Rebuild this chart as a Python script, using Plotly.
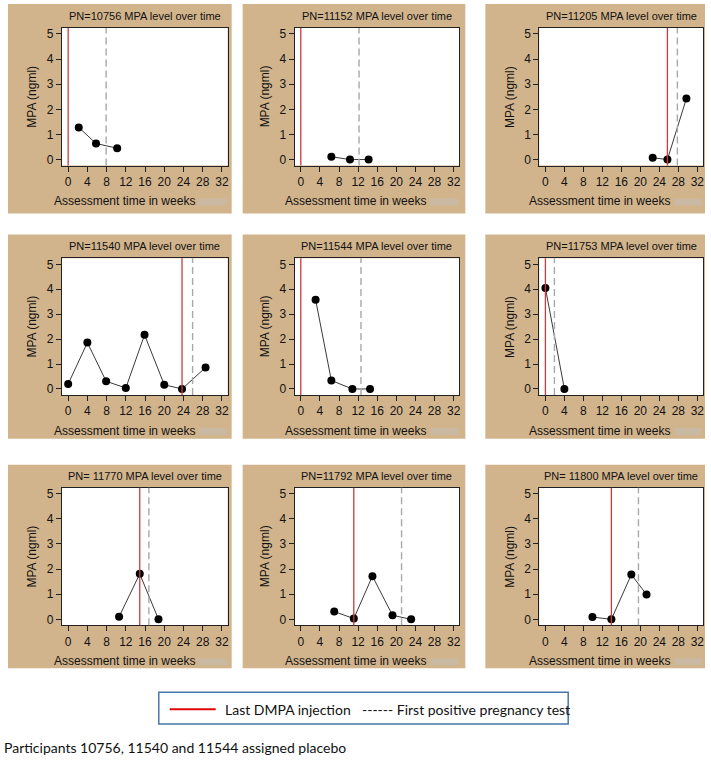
import plotly.graph_objects as go

W, H = 711, 760

# ---- data ----
ids = ["10756", "11152", "11205", "11540", "11544", "11753", "11770", "11792", "11800"]
titles = ["PN=10756 MPA level over time", "PN=11152 MPA level over time",
          "PN=11205 MPA level over time", "PN=11540 MPA level over time",
          "PN=11544 MPA level over time", "PN=11753 MPA level over time",
          "PN= 11770 MPA level over time", "PN=11792 MPA level over time",
          "PN= 11800 MPA level over time"]

weeks_10756 = [2.2, 5.8, 10.2]
mpa_10756 = [1.28, 0.64, 0.45]
weeks_11152 = [6.4, 10.3, 14.2]
mpa_11152 = [0.11, 0.0, 0.0]
weeks_11205 = [22.6, 25.7, 29.7]
mpa_11205 = [0.07, 0.0, 2.43]
weeks_11540 = [0.0, 4.0, 7.9, 12.0, 15.9, 20.0, 23.7, 28.6]
mpa_11540 = [0.2, 1.86, 0.31, 0.04, 2.17, 0.17, 0.0, 0.86]
weeks_11544 = [3.1, 6.4, 10.8, 14.5]
mpa_11544 = [3.58, 0.34, 0.0, 0.0]
weeks_11753 = [0.0, 4.0]
mpa_11753 = [4.05, 0.0]
weeks_11770 = [10.6, 14.9, 18.8]
mpa_11770 = [0.1, 1.81, 0.0]
weeks_11792 = [7.0, 11.1, 15.0, 19.2, 23.1]
mpa_11792 = [0.31, 0.03, 1.72, 0.16, 0.0]
weeks_11800 = [9.9, 13.9, 18.1, 21.3]
mpa_11800 = [0.09, 0.0, 1.78, 0.99]

weeks = [weeks_10756, weeks_11152, weeks_11205, weeks_11540, weeks_11544,
         weeks_11753, weeks_11770, weeks_11792, weeks_11800]
mpa = [mpa_10756, mpa_11152, mpa_11205, mpa_11540, mpa_11544,
       mpa_11753, mpa_11770, mpa_11792, mpa_11800]

last_dmpa = [0, 0, 25.7, 23.7, 0, 0, 14.9, 11.1, 13.9]
first_preg = [7.9, 12.2, 27.8, 25.9, 12.6, 1.9, 16.8, 21.1, 19.6]

x_ticks = [0, 4, 8, 12, 16, 20, 24, 28, 32]
y_ticks = [0, 1, 2, 3, 4, 5]

# ---- panel geometry in pixels ----
tan_cols = [(8, 232), (243, 466), (486, 706)]
plot_cols = [(62, 228), (295, 460), (540, 704)]
tan_rows = [(3, 213), (234, 439), (465, 669)]
plot_rows = [(27, 165), (258, 395), (488, 626)]

TAN = "#D2B48C"
GREYBOX = "#C9B9A2"
FONT = "Liberation Sans, Arial, sans-serif"


def fx(px):
    return px / W


def fy(py):
    return 1 - py / H


def label(x, y, text, size, family=FONT, xanchor="center", angle=0):
    return dict(xref="paper", yref="paper", x=x, y=y, xanchor=xanchor, yanchor="middle",
                text=text, showarrow=False, textangle=angle,
                font=dict(family=family, size=size, color="#111"))


fig = go.Figure()
shapes = []
annotations = []

for i in range(9):
    r, c = divmod(i, 3)
    n = "" if i == 0 else str(i + 1)
    xa, ya = "x" + n, "y" + n
    pl, pr = plot_cols[c]
    pt, pb = plot_rows[r]
    tl, tr = tan_cols[c]
    tt, tb = tan_rows[r]

    # tan panel and white plot area
    shapes.append(dict(type="rect", xref="paper", yref="paper", x0=fx(tl), x1=fx(tr),
                       y0=fy(tb), y1=fy(tt), fillcolor=TAN, line=dict(width=0), layer="below"))
    shapes.append(dict(type="rect", xref=xa + " domain", yref=ya + " domain", x0=0, x1=1,
                       y0=0, y1=1, fillcolor="white", line=dict(width=0), layer="below"))

    fig.add_trace(go.Scatter(x=weeks[i], y=mpa[i], mode="lines+markers", xaxis=xa, yaxis=ya,
                             line=dict(color="#3a3a3a", width=1),
                             marker=dict(color="black", size=8), showlegend=False))

    # reference lines
    shapes.append(dict(type="line", xref=xa, yref=ya + " domain", x0=last_dmpa[i], x1=last_dmpa[i],
                       y0=0, y1=1, line=dict(color="#CC3A3A", width=1.3)))
    shapes.append(dict(type="line", xref=xa, yref=ya + " domain", x0=first_preg[i], x1=first_preg[i],
                       y0=0, y1=1, line=dict(color="#A8A8A8", width=1.4, dash="7px,4px")))

    axis_common = dict(showline=True, mirror=True, linecolor="#222", linewidth=1,
                       showgrid=False, zeroline=False, ticks="outside", ticklen=5,
                       tickcolor="#222", tickfont=dict(family=FONT, size=12, color="#111"))
    fig.update_layout(**{
        ("xaxis" + n): dict(domain=[fx(pl), fx(pr)], anchor=ya, range=[-1.3, 33.2],
                            tickvals=x_ticks, **axis_common),
        ("yaxis" + n): dict(domain=[fy(pb), fy(pt)], anchor=xa, range=[-0.24, 5.24],
                            tickvals=y_ticks, **axis_common),
    })

    # titles
    annotations.append(label(fx((pl + pr) / 2), fy(pt - 12), titles[i], 11))
    annotations.append(label(fx(pr - 31), fy(pb + 36), "Assessment time in weeks", 12,
                             xanchor="right"))
    shapes.append(dict(type="rect", xref="paper", yref="paper", x0=fx(pr - 29), x1=fx(pr - 1),
                       y0=fy(pb + 40), y1=fy(pb + 33), fillcolor=GREYBOX, line=dict(width=0)))
    annotations.append(label(fx(pl - 30), fy((pt + pb) / 2), "MPA (ngml)", 12, angle=-90))

# legend box
LFONT = "Lato, Carlito, sans-serif"
shapes.append(dict(type="rect", xref="paper", yref="paper", x0=fx(159), x1=fx(569),
                   y0=fy(725), y1=fy(693), fillcolor="white", line=dict(color="#4A76A8", width=1.5)))
shapes.append(dict(type="line", xref="paper", yref="paper", x0=fx(170), x1=fx(216),
                   y0=fy(710), y1=fy(710), line=dict(color="#E00000", width=2)))
annotations.append(label(fx(223), fy(710), "Last DMPA injection", 14, LFONT, "left"))
annotations.append(label(fx(361), fy(710), "------ First positive pregnancy test", 14, LFONT, "left"))
annotations.append(label(fx(2), fy(748), "Participants 10756, 11540 and 11544 assigned placebo",
                         14, LFONT, "left"))

fig.update_layout(width=W, height=H, margin=dict(l=0, r=0, t=0, b=0),
                  paper_bgcolor="white", plot_bgcolor="rgba(0,0,0,0)",
                  showlegend=False, shapes=shapes, annotations=annotations)

fig.write_html("out.html", config={"displayModeBar": False},
               post_script="document.body.style.margin='0';")
